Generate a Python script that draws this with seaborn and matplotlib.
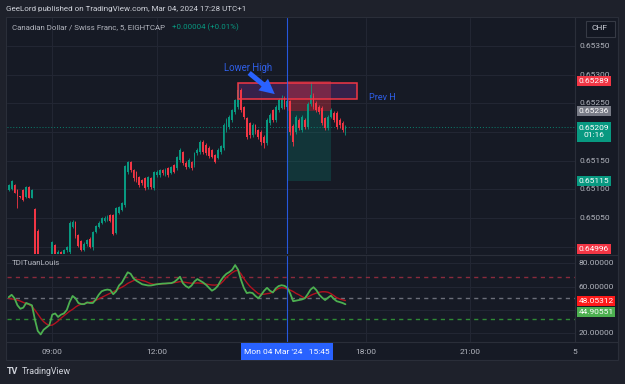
import numpy as np
import pandas as pd
import matplotlib
matplotlib.use("Agg")
import matplotlib.pyplot as plt
import seaborn as sns
from matplotlib.patches import Rectangle

# ---------------- data (5-min CADCHF candles, pips above 0.65000) ----------------
candle_idx = list(range(-15, 102))  # 0 == 09:00, step 5 minutes
opens = [99, 100, 108, 99, 88, 99, 87, 104, 85, 66, 27, -40, -60, -70, -45,
         -25, 3, -15, -10, -20, -6, -10, 35, 43, 20, 10, -5, 5, 14, 0, 26, 34, 41, 45, 46,
         55, 55, 24, 59, 64, 73, 130, 148, 134, 130, 122, 116, 120, 104, 120, 102, 125, 125,
         134, 126, 137, 129, 142, 137, 151, 165, 146, 139, 148, 142, 163, 165, 183, 177, 172,
         169, 160, 155, 165, 172, 204, 209, 221, 235, 244, 273, 244, 224, 215, 195, 212, 204,
         200, 191, 181, 215, 238, 221, 238, 242, 259, 244, 254, 210, 200, 221, 204, 221, 209,
         249, 262, 251, 244, 242, 224, 207, 226, 233, 233, 221, 216, 205]
highs = [110, 117, 110, 100, 89, 101, 106, 106, 101, 68, 30, -35, -50, -40, -20,
         10, 5, -5, -8, -4, 2, 44, 46, 45, 22, 12, 8, 14, 16, 28, 38, 44, 52, 53, 55,
         57, 57, 69, 71, 78, 142, 150, 150, 136, 132, 124, 118, 122, 124, 122, 132, 133, 136,
         136, 137, 139, 141, 144, 158, 172, 167, 150, 155, 150, 165, 172, 186, 186, 180, 175,
         171, 162, 172, 178, 215, 224, 229, 240, 258, 285, 276, 246, 226, 218, 215, 214, 206,
         203, 194, 224, 233, 240, 247, 259, 265, 262, 258, 256, 214, 229, 224, 229, 224, 252,
         287, 268, 254, 247, 245, 226, 229, 241, 236, 236, 224, 219, 212]
lows = [97, 98, 93, 67, 84, 80, 85, 84, 84, -30, -50, -70, -80, -75, -55,
        -30, -20, -25, -30, -25, -10, -15, 32, 15, 0, -8, -8, 2, -3, -5, 24, 32, 39, 43, 44,
        43, 20, 22, 57, 62, 70, 126, 130, 115, 112, 104, 108, 98, 100, 100, 99, 122, 122,
        125, 124, 122, 126, 128, 134, 148, 143, 136, 137, 134, 139, 160, 162, 162, 160, 155,
        154, 146, 153, 162, 168, 200, 206, 218, 232, 240, 235, 222, 187, 190, 192, 196, 188,
        178, 172, 178, 212, 218, 218, 235, 240, 240, 238, 195, 176, 196, 204, 200, 205, 205,
        245, 240, 235, 232, 212, 204, 204, 224, 218, 205, 207, 200, 195]
closes = [108, 115, 94, 88, 86, 81, 104, 85, 99, -20, -40, -60, -70, -45, -25,
          8, -15, -10, -20, -6, 0, 41, 43, 18, 2, -5, 5, 12, 0, 26, 36, 41, 50, 50, 52,
          45, 22, 67, 69, 76, 140, 148, 134, 120, 116, 108, 111, 102, 122, 104, 130, 130, 134,
          128, 134, 125, 139, 130, 156, 169, 146, 139, 152, 137, 163, 169, 183, 165, 163, 158,
          156, 148, 169, 176, 212, 221, 226, 238, 256, 273, 238, 226, 191, 195, 212, 200, 191,
          183, 181, 221, 230, 221, 244, 256, 259, 244, 254, 200, 183, 226, 207, 226, 209, 249,
          265, 244, 238, 235, 216, 207, 226, 238, 221, 209, 212, 204, 209]

# TDI indicator: RSI (green) and signal (red)
rsi_line = [51, 53, 50, 44, 41, 42, 46, 45, 44, 32, 22, 19, 23, 25, 27,
            36, 37, 34, 36, 37, 40, 47, 52, 50, 46, 45, 45, 46.5, 46, 46, 49, 53, 56, 57, 57.5,
            57, 53.5, 56, 61, 63.5, 68, 72.3, 71, 67, 65, 63.5, 62, 61.5, 61, 61, 61.5, 62, 62.3,
            62.6, 62.7, 62.9, 63, 64, 66, 68.5, 63, 60.5, 59, 61, 64.5, 66.5, 65, 63.5, 61.5, 59,
            56.5, 58, 60.5, 65, 68.5, 71, 72.5, 74.5, 78.5, 74.5, 66, 59, 54.5, 55, 54.5, 52, 50,
            53, 56.5, 59, 56.5, 55, 58.5, 60.5, 61.2, 60.7, 59, 54, 47.5, 48, 48.5, 49, 50, 53.5,
            57.5, 59.5, 57, 53, 50.5, 48.5, 50.5, 52.3, 49.5, 47.5, 46.8, 46, 44.9]
signal_line = [50, 49.5, 49, 48.5, 47.6, 46.5, 45.5, 44.6, 43, 40, 36.5, 33, 30, 28, 26.8,
               27, 28.6, 30.5, 33, 35, 37, 39, 40.5, 42.5, 44, 45, 45.5, 46, 46.6, 47.3, 48.3,
               49.5, 50.7, 52, 53.2, 54.4, 55.5, 57, 58.4, 59.5, 61, 62.8, 64, 65.2, 66.3, 66,
               65.2, 64.6, 63.5, 62.5, 62, 62, 62.2, 62.4, 62.6, 62.8, 63, 63.4, 63.8, 64.3, 64,
               63.6, 63.2, 62.9, 63, 63.2, 63, 62.6, 62.2, 61.8, 61.4, 61.3, 61.6, 62.5, 65, 68,
               70, 72, 73.5, 74, 71, 67, 63.5, 60.5, 58.2, 56, 54, 53.4, 53.5, 54, 54.3, 55.5, 57,
               58.5, 59.1, 58.8, 57.8, 57, 55.8, 54.2, 53, 51.5, 50.2, 51, 52.5, 53.6, 54.5, 55.2,
               55.6, 55.6, 55.2, 54, 52.3, 50.5, 49.5, 48.7, 48.05]
tdi_levels = [68, 50, 32]
tdi_last_signal = 48.05312
tdi_last_rsi = 44.90551

price_ticks = [0.65000, 0.65050, 0.65100, 0.65150, 0.65200, 0.65250, 0.65300, 0.65350]
price_tick_labels = ["", "0.65050", "0.65100", "0.65150", "", "0.65250", "0.65300", "0.65350"]
tdi_ticks = [20, 40, 60, 80]
tdi_tick_labels = ["20.00000", "", "60.00000", "80.00000"]
time_ticks = [0, 36, 72, 108, 144, 180]
time_tick_labels = ["09:00", "12:00", "", "18:00", "21:00", "5"]

last_price = 0.65209
entry_price = 0.65236
stop_price = 0.65289
target_price = 0.65115
low_level = 0.64996
prevh_box = (63.9, 104.9, 0.65257, 0.65286)   # x0, x1, y0, y1
position_x = (80.85, 95.9)
crosshair_idx = 81

# ---------------- style ----------------
OUTER = "#1e212b"
PANE = "#161a25"
GRID = "#232734"
UP = "#089981"
DOWN = "#f23645"
AXTXT = "#b2b5be"
BLUE = "#2962ff"

sns.set_theme(style="dark")
plt.rcParams["font.family"] = ["Roboto", "DejaVu Sans"]

W, H = 625, 384
def fx(px): return px / W
def fy(py): return 1 - py / H

fig = plt.figure(figsize=(W / 100, H / 100), dpi=100, facecolor=OUTER)

# chart frame
fig.patches.append(Rectangle((fx(6), fy(360)), fx(618) - fx(6), fy(17) - fy(360),
                             transform=fig.transFigure, fc=PANE, ec="#2a2e39", lw=0.8, zorder=-2))

def to_price(v): return 0.65 + np.asarray(v, dtype=float) / 1e5

df = pd.DataFrame({"idx": candle_idx, "open": to_price(opens), "high": to_price(highs),
                   "low": to_price(lows), "close": to_price(closes)})
df["up"] = df["close"] >= df["open"]
cols = np.where(df["up"], UP, DOWN)

XL = (-15.6, 180.1)

# ---------------- main pane ----------------
ax = fig.add_axes([fx(7), fy(254), fx(575) - fx(7), fy(18) - fy(254)])
ax.set_facecolor(PANE)
ax.set_xlim(*XL)
ax.set_ylim(0.649872, 0.653988)
ax.set_xticks(time_ticks)
ax.set_yticks(price_ticks)
ax.tick_params(left=False, bottom=False, labelleft=False, labelbottom=False)
ax.grid(True, color=GRID, lw=0.7)
for s in ax.spines.values():
    s.set_visible(False)

# annotations under candles
x0, x1, y0, y1 = prevh_box
ax.add_patch(Rectangle((x0, y0), x1 - x0, y1 - y0, fc="#5e2a78", alpha=0.45, ec="none", zorder=1))
ax.add_patch(Rectangle((x0, y0), x1 - x0, y1 - y0, fc="none", ec=DOWN, lw=1.1, zorder=4))
ax.add_patch(Rectangle((position_x[0], entry_price), position_x[1] - position_x[0],
                       stop_price - entry_price, fc=DOWN, alpha=0.35, ec="none", zorder=2))
ax.add_patch(Rectangle((position_x[0], target_price), position_x[1] - position_x[0],
                       entry_price - target_price, fc=UP, alpha=0.22, ec="none", zorder=2))

ax.axhline(last_price, color=UP, lw=0.7, ls=(0, (1, 2)), alpha=0.8, zorder=2)

ax.vlines(df["idx"], df["low"], df["high"], colors=cols, lw=0.6, zorder=3)
body_lo = np.minimum(df["open"], df["close"])
body_h = np.maximum(np.abs(df["close"] - df["open"]), 0.000008)
ax.bar(df["idx"], body_h, bottom=body_lo, width=0.62, color=cols, lw=0, zorder=3)

ax.axvline(crosshair_idx, color=BLUE, lw=0.8, alpha=0.85, zorder=5)

ax.text(67.4, 0.65312, "Lower High", color="#2f5fe8", fontsize=6.9, ha="center", va="center", zorder=6)
ax.annotate("", xy=(77.4, 0.65263), xytext=(67.1, 0.65306),
            arrowprops=dict(arrowstyle="simple,head_length=0.9,head_width=0.9,tail_width=0.3",
                            color=BLUE, lw=0), zorder=6)
ax.text(113.9, 0.65261, "Prev H", color="#2f5fe8", fontsize=6.6, ha="center", va="center", zorder=6)

# ---------------- TDI pane ----------------
ax2 = fig.add_axes([fx(7), fy(342), fx(575) - fx(7), fy(256) - fy(342)])
ax2.set_facecolor(PANE)
ax2.set_xlim(*XL)
ax2.set_ylim(12.54, 86.26)
ax2.set_xticks(time_ticks)
ax2.set_yticks(tdi_ticks)
ax2.tick_params(left=False, bottom=False, labelleft=False, labelbottom=False)
ax2.grid(True, color=GRID, lw=0.7)
for s in ax2.spines.values():
    s.set_visible(False)

lvl_cols = ["#8a2a3c", "#6b6e79", "#2f8a35"]
for lv, c in zip(tdi_levels, lvl_cols):
    ax2.axhline(lv, color=c, lw=1.0, ls=(0, (3, 3)), zorder=2)

tdi = pd.DataFrame({"idx": candle_idx, "rsi": rsi_line, "sig": signal_line})
sns.lineplot(data=tdi, x="idx", y="sig", ax=ax2, color="#b3121f", lw=1.0, zorder=3)
sns.lineplot(data=tdi, x="idx", y="rsi", ax=ax2, color="#4caf50", lw=1.3, zorder=4)
ax2.set_xlabel("")
ax2.set_ylabel("")
ax2.axvline(crosshair_idx, color=BLUE, lw=0.8, alpha=0.85, zorder=5)

# ---------------- separators ----------------
for (xa, ya, xb, yb) in [(6, 255, 618, 255), (575, 17, 575, 342), (6, 342, 618, 342)]:
    fig.add_artist(plt.Line2D([fx(xa), fx(xb)], [fy(ya), fy(yb)], color="#2a2e39", lw=0.8,
                              transform=fig.transFigure, zorder=1))

# ---------------- axis labels ----------------
FS = 6.0
def py_price(p): return 46 + (0.65350 - p) * 57333
def py_tdi(v): return 263.3 + (80 - v) * 1.1667
def px_idx(i): return 52.3 + i * 2.903

for p, lab in zip(price_ticks, price_tick_labels):
    if lab:
        fig.text(fx(594.5), fy(py_price(p)), lab, color=AXTXT, fontsize=FS, ha="center", va="center", zorder=2)
for v, lab in zip(tdi_ticks, tdi_tick_labels):
    if lab:
        fig.text(fx(596.5), fy(py_tdi(v)), lab, color=AXTXT, fontsize=FS, ha="center", va="center", zorder=2)
for i, lab in zip(time_ticks, time_tick_labels):
    if lab:
        fig.text(fx(px_idx(i)), fy(351.5), lab, color=AXTXT, fontsize=FS, ha="center", va="center", zorder=2)

def tag(yc, h, text, fc, tc="white", x0=577, x1=611):
    fig.patches.append(Rectangle((fx(x0), fy(yc + h / 2)), fx(x1) - fx(x0), h / H,
                                 transform=fig.transFigure, fc=fc, ec="none", zorder=5))
    fig.text(fx((x0 + x1) / 2), fy(yc), text, color=tc, fontsize=FS, ha="center", va="center",
             zorder=6, linespacing=1.25)

tag(py_price(stop_price), 10, f"{stop_price:.5f}", DOWN)
tag(py_price(entry_price), 10, f"{entry_price:.5f}", "#787b86")
tag(py_price(last_price) + 5, 20, f"{last_price:.5f}\n01:16", UP)
tag(py_price(target_price), 10, f"{target_price:.5f}", UP)
tag(py_price(low_level), 10, f"{low_level:.5f}", DOWN)
tag(300.7, 10, f"{tdi_last_signal:.5f}", "#ff1a1a", x0=577, x1=615)
tag(312.3, 10, f"{tdi_last_rsi:.5f}", "#4caf50", x0=577, x1=615)

# CHF box
fig.patches.append(Rectangle((fx(586), fy(36.5)), fx(615) - fx(586), 16 / H, transform=fig.transFigure,
                             fc="#131722", ec="#363a45", lw=0.8, zorder=5))
fig.text(fx(591), fy(28.5), "CHF", color="#d1d4dc", fontsize=FS, ha="left", va="center", zorder=6)

# crosshair time label
fig.patches.append(Rectangle((fx(241), fy(359.5)), fx(333) - fx(241), 16.5 / H, transform=fig.transFigure,
                             fc=BLUE, ec="none", zorder=5))
fig.text(fx(287), fy(351.5), "Mon 04 Mar '24   15:45", color="white", fontsize=FS, ha="center",
         va="center", zorder=6)

# ---------------- header texts ----------------
fig.text(fx(6), fy(9), "GeeLord published on TradingView.com, Mar 04, 2024 17:28 UTC+1",
         color="#d1d4dc", fontsize=5.8, ha="left", va="center")
fig.text(fx(12), fy(27.5), "Canadian Dollar / Swiss Franc, 5, EIGHTCAP", color="#b2b5be",
         fontsize=5.7, ha="left", va="center", zorder=6)
fig.text(fx(172), fy(27.5), "+0.00004 (+0.01%)", color=UP, fontsize=5.7, ha="left", va="center", zorder=6)
fig.text(fx(12), fy(263), "TDITuanLouis", color="#b2b5be", fontsize=5.7, ha="left", va="center", zorder=6)

# TradingView logo
fig.text(fx(7), fy(372), "TV", color="#d1d4dc", fontsize=6.5, fontweight="bold", ha="left", va="center")
fig.text(fx(22), fy(372), "TradingView", color="#d1d4dc", fontsize=6.4, ha="left", va="center")

fig.savefig("out.png", dpi=100, facecolor=OUTER)
